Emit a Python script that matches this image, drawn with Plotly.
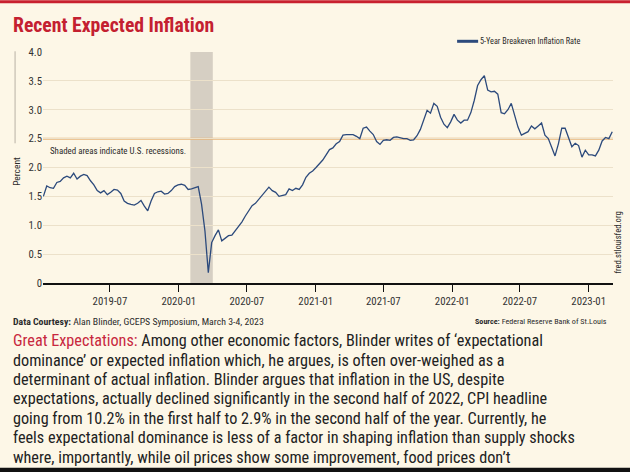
import pandas as pd
import plotly.graph_objects as go

# ---------------- data ----------------
start_date = "2019-01-04"
step = "9D"
values = [
    1.50, 1.68, 1.65, 1.64, 1.74, 1.76, 1.82, 1.85, 1.82, 1.90,
    1.80, 1.85, 1.88, 1.86, 1.77, 1.70, 1.60, 1.56, 1.60, 1.53,
    1.57, 1.62, 1.61, 1.55, 1.42, 1.38, 1.36, 1.35, 1.38, 1.43,
    1.33, 1.25, 1.42, 1.55, 1.58, 1.59, 1.54, 1.55, 1.60, 1.67,
    1.70, 1.71, 1.69, 1.62, 1.63, 1.65, 1.67, 1.36, 0.90, 0.18,
    0.70, 0.82, 0.92, 0.73, 0.78, 0.82, 0.83, 0.90, 0.97, 1.06,
    1.16, 1.25, 1.34, 1.38, 1.45, 1.52, 1.57, 1.66, 1.60, 1.57,
    1.50, 1.52, 1.53, 1.63, 1.60, 1.64, 1.62, 1.70, 1.83, 1.90,
    1.94, 2.00, 2.06, 2.13, 2.22, 2.31, 2.34, 2.41, 2.45, 2.56,
    2.57, 2.57, 2.57, 2.54, 2.50, 2.68, 2.70, 2.63, 2.57, 2.45,
    2.40, 2.47, 2.48, 2.47, 2.52, 2.53, 2.51, 2.50, 2.50, 2.47,
    2.48, 2.55, 2.66, 2.82, 2.99, 2.94, 3.11, 3.06, 2.87, 2.75,
    2.69, 2.79, 2.92, 2.82, 2.77, 2.82, 2.82, 2.95, 3.16, 3.42,
    3.52, 3.59, 3.34, 3.31, 3.32, 3.27, 2.95, 2.93, 3.00, 3.11,
    2.90, 2.70, 2.56, 2.59, 2.62, 2.72, 2.67, 2.72, 2.77, 2.56,
    2.50, 2.35, 2.20, 2.41, 2.68, 2.68, 2.50, 2.36, 2.42, 2.38,
    2.18, 2.30, 2.22, 2.22, 2.20, 2.30, 2.46, 2.52, 2.50, 2.62,
]
dates = pd.date_range(start_date, periods=len(values), freq=step)

series_name = "5-Year Breakeven Inflation Rate"
reference_level = 2.5
recession_start = "2020-02-01"
recession_end = "2020-04-01"

x_tick_vals = ["2019-07-01", "2020-01-01", "2020-07-01", "2021-01-01",
               "2021-07-01", "2022-01-01", "2022-07-01", "2023-01-01"]
x_tick_text = ["2019-07", "2020-01", "2020-07", "2021-01",
               "2021-07", "2022-01", "2022-07", "2023-01"]
y_tick_vals = [0, 0.5, 1.0, 1.5, 2.0, 2.5, 3.0, 3.5, 4.0]
y_tick_text = ["0", "0.5", "1.0", "1.5", "2.0", "2.5", "3.0", "3.5", "4.0"]

title_text = "Recent Expected Inflation"
note_text = "Shaded areas indicate U.S. recessions."
courtesy_text = "<b>Data Courtesy:</b> Alan Blinder, GCEPS Symposium, March 3-4, 2023"
source_text = "<b>Source:</b> Federal Reserve Bank of St.Louis"
watermark_text = "fred.stlouisfed.org"
para_lines = [
    "<span style='color:#c8283e'>Great Expectations:</span> Among other economic factors, Blinder writes of \u2018expectational",
    "dominance\u2019 or expected inflation which, he argues, is often over-weighed as a",
    "determinant of actual inflation. Blinder argues that inflation in the US, despite",
    "expectations, actually declined significantly in the second half of 2022, CPI headline",
    "going from 10.2% in the first half to 2.9% in the second half of the year. Currently, he",
    "feels expectational dominance is less of a factor in shaping inflation than supply shocks",
    "where, importantly, while oil prices show some improvement, food prices don\u2019t",
]

# ---------------- layout geometry (pixels) ----------------
W, H = 630, 472
L, R, T, B = 43.4, 612.7, 51.7, 282.7
PW, PH = R - L, B - T


def px(x):
    return (x - L) / PW


def py(y):
    return (B - y) / PH


BG = "#fdf7e7"
NARROW = "Roboto Condensed, DejaVu Sans Condensed, Liberation Sans Narrow, Liberation Sans, sans-serif"
TXT = "#2b2b2b"
LINE_COLOR = "#2c4a7c"

fig = go.Figure()
fig.add_trace(go.Scatter(x=dates, y=values, mode="lines", name=series_name,
                         line=dict(color=LINE_COLOR, width=1.3), showlegend=False,
                         hoverinfo="skip"))

shapes = [
    dict(type="rect", xref="x", yref="paper", x0=recession_start, x1=recession_end,
         y0=0, y1=1, fillcolor="#d6cfc3", line=dict(width=0), layer="between"),
    dict(type="line", xref="paper", yref="y", x0=0, x1=1, y0=reference_level, y1=reference_level,
         line=dict(color="#e6b57a", width=2), layer="between"),
    dict(type="rect", xref="paper", yref="paper", x0=px(0), x1=px(W), y0=py(0), y1=py(3),
         fillcolor="#c8202f", line=dict(width=0)),
    dict(type="rect", xref="paper", yref="paper", x0=px(0), x1=px(W), y0=py(467.5), y1=py(H),
         fillcolor="#111111", line=dict(width=0)),
    dict(type="line", xref="paper", yref="paper", x0=px(457), x1=px(478), y0=py(41), y1=py(41),
         line=dict(color=LINE_COLOR, width=3)),
    dict(type="line", xref="paper", yref="paper", x0=px(15.5), x1=px(15.5), y0=py(51), y1=py(143),
         line=dict(color="#b9b2a5", width=1)),
]

ann = []


def add_text(text, x, y, size, color=TXT, xanchor="left", yanchor="middle", family=NARROW, angle=0):
    ann.append(dict(text=text, x=px(x), y=py(y), xref="paper", yref="paper", showarrow=False,
                    xanchor=xanchor, yanchor=yanchor, textangle=angle,
                    font=dict(family=family, size=size, color=color)))


add_text("<b>" + title_text + "</b>", 11, 25, 19.7, color="#c42030")
add_text(series_name, 478, 41, 8.2)
add_text(note_text, 48, 151, 8.9)
add_text("Percent", 17, 171, 9.5, angle=-90, xanchor="center")
add_text(watermark_text, 618, 242, 8.5, angle=-90, xanchor="center")
add_text(courtesy_text, 11, 321, 9.8)
add_text(source_text, 609, 321, 8.1, xanchor="right")
for i, line in enumerate(para_lines):
    add_text(line, 11, 340.5 + i * 19.4, 16.2, color="#222222")

fig.update_layout(
    width=W, height=H,
    margin=dict(l=L, r=W - R, t=T, b=H - B, pad=0),
    paper_bgcolor=BG, plot_bgcolor=BG,
    shapes=shapes, annotations=ann,
    xaxis=dict(type="date", range=["2019-01-03", "2023-03-07"],
               tickvals=x_tick_vals, ticktext=x_tick_text,
               ticks="outside", ticklen=7, tickwidth=1.3, tickcolor="#111111",
               showline=True, linecolor="#111111", linewidth=1.6,
               showgrid=False, zeroline=False,
               tickfont=dict(family=NARROW, size=10.8, color="#333333")),
    yaxis=dict(range=[0, 4.0], tickvals=y_tick_vals, ticktext=y_tick_text,
               showgrid=True, gridcolor="#ece1ca", gridwidth=1,
               showline=False, zeroline=False, ticks="",
               tickfont=dict(family=NARROW, size=10.8, color="#333333")),
    showlegend=False,
)

fig.write_html(
    "out.html",
    config={"displayModeBar": False},
    post_script="document.body.style.margin='0px';document.body.style.padding='0px';"
                "document.body.style.background='#fdf7e7';",
)
